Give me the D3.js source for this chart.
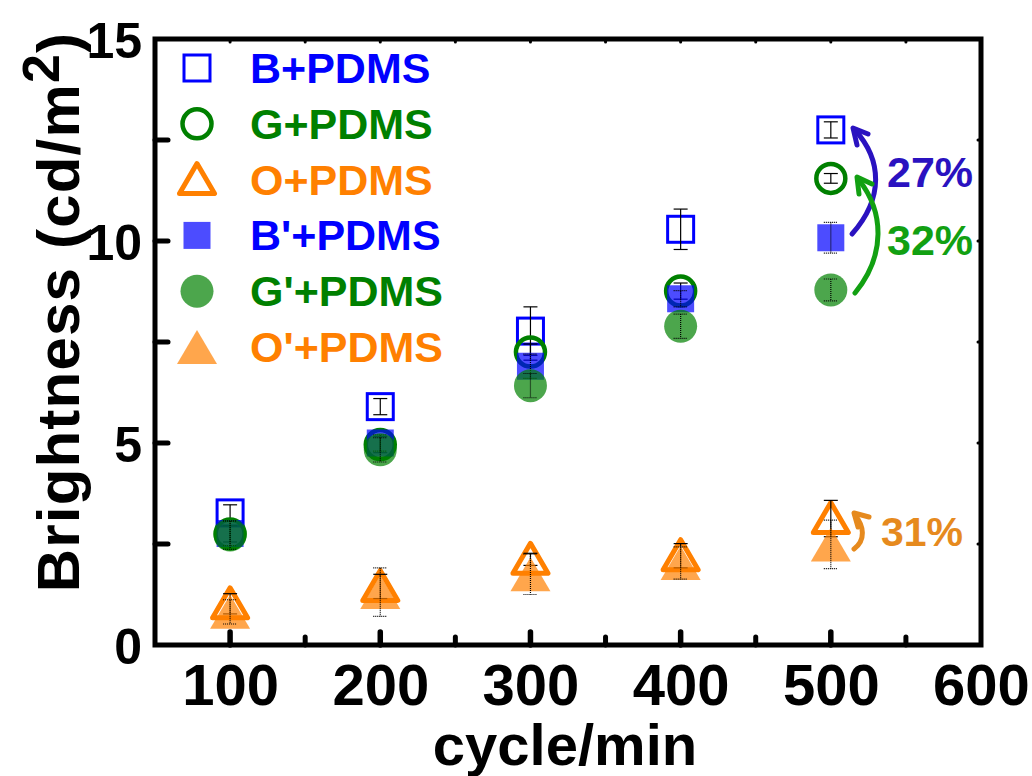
<!DOCTYPE html>
<html><head><meta charset="utf-8">
<script src="https://cdn.jsdelivr.net/npm/d3@7"></script>
<style>body{margin:0;background:#fff}svg{display:block}text{font-family:"Liberation Sans",Arial,sans-serif;font-weight:bold}</style>
</head><body><svg id="c" width="1032" height="776"></svg>
<script>
const cycles = [100, 200, 300, 400, 500];
const B  = [3.27, 5.9, 7.77, 10.29, 12.75];
const G  = [2.75, 4.96, 7.25, 8.76, 11.55];
const O  = [1.02, 1.45, 2.12, 2.21, 3.13];
const Bp = [2.76, 5.0, 6.9, 8.57, 10.08];
const Gp = [2.72, 4.83, 6.42, 7.89, 8.79];
const Op = [0.82, 1.31, 1.75, 2.03, 2.49];
const Berr  = [0.2, 0.2, 0.6, 0.5, 0.2];
const Gerr  = [0.2, 0.2, 0.2, 0.2, 0.12];
const Oerr  = [0.25, 0.3, 0.15, 0.3, 0.45];
const Bperr = [0.3, 0.2, 0.3, 0.2, 0.38];
const Gperr = [0.35, 0.3, 0.3, 0.3, 0.27];
const Operr = [0.3, 0.6, 0.5, 0.4, 0.6];
const seriesNames = ["B+PDMS", "G+PDMS", "O+PDMS", "B'+PDMS", "G'+PDMS", "O'+PDMS"];
const xTicks = [100, 200, 300, 400, 500, 600];
const yTicks = [0, 5, 10, 15];
const annotations = ["27%", "32%", "31%"];

const svg = d3.select("#c");
const x = d3.scaleLinear().domain([50, 600]).range([155, 981]);
const y = d3.scaleLinear().domain([0, 15]).range([645, 39]);

const series = [
  {name: seriesNames[0], v: B,  e: Berr,  shape: "square",   fill: "none", stroke: "#0000ff", sw: 3, text: "#0000ff", dash: null},
  {name: seriesNames[1], v: G,  e: Gerr,  shape: "circle",   fill: "none", stroke: "#008000", sw: 4.5, text: "#008000", dash: null},
  {name: seriesNames[2], v: O,  e: Oerr,  shape: "triangle", fill: "none", stroke: "#ff8000", sw: 5, text: "#ff8000", dash: null},
  {name: seriesNames[3], v: Bp, e: Bperr, shape: "fsquare",  fill: "rgba(0,0,255,0.7)", stroke: "none", sw: 0, text: "#0000ff", dash: "1,1"},
  {name: seriesNames[4], v: Gp, e: Gperr, shape: "fcircle",  fill: "rgba(0,128,0,0.7)", stroke: "none", sw: 0, text: "#008000", dash: "1,1"},
  {name: seriesNames[5], v: Op, e: Operr, shape: "ftriangle",fill: "rgba(255,128,0,0.7)", stroke: "none", sw: 0, text: "#ff8000", dash: "1,1"}
];

function drawSymbol(g, s, cx, cy) {
  let el;
  if (s.shape === "square") el = g.append("rect").attr("x", cx-13).attr("y", cy-13).attr("width", 26).attr("height", 26);
  else if (s.shape === "fsquare") el = g.append("rect").attr("x", cx-13.5).attr("y", cy-13.5).attr("width", 27).attr("height", 27);
  else if (s.shape === "circle") el = g.append("circle").attr("cx", cx).attr("cy", cy).attr("r", 14.5);
  else if (s.shape === "fcircle") el = g.append("circle").attr("cx", cx).attr("cy", cy).attr("r", 16.5);
  else if (s.shape === "triangle") el = g.append("path").attr("d", `M${cx},${cy-16}L${cx+17.5},${cy+14}L${cx-17.5},${cy+14}Z`).attr("stroke-linejoin","round");
  else el = g.append("path").attr("d", `M${cx},${cy-17}L${cx+20},${cy+17}L${cx-20},${cy+17}Z`);
  el.attr("fill", s.fill).attr("stroke", s.stroke).attr("stroke-width", s.sw);
}

// data
const gData = svg.append("g");
series.forEach(s => {
  const g = gData.append("g");
  s.v.forEach((v, i) => {
    const cx = x(cycles[i]), cy = y(v);
    drawSymbol(g, s, cx, cy);
  });
  s.v.forEach((v, i) => {
    const cx = x(cycles[i]);
    const y1 = y(v + s.e[i]), y2 = y(v - s.e[i]);
    const eg = g.append("g").attr("stroke", "#000").attr("stroke-width", 1.2);
    if (s.dash) eg.attr("stroke-dasharray", s.dash);
    eg.append("line").attr("x1", cx).attr("x2", cx).attr("y1", y1).attr("y2", y2);
    eg.append("line").attr("x1", cx-7).attr("x2", cx+7).attr("y1", y1).attr("y2", y1);
    eg.append("line").attr("x1", cx-7).attr("x2", cx+7).attr("y1", y2).attr("y2", y2);
  });
});

// axes
const axG = svg.append("g");
const xb = d3.axisBottom(x).tickValues(xTicks).tickSize(0).tickPadding(0).tickFormat(d3.format("d"));
const xAxis = axG.append("g").attr("transform", "translate(0,645)").call(xb);
xAxis.select(".domain").remove();
xAxis.selectAll("text").attr("y", 60).attr("dy", null).attr("font-size", 58).attr("fill", "#000");
const yl = d3.axisLeft(y).tickValues(yTicks).tickSize(0).tickPadding(0);
const yAxis = axG.append("g").attr("transform", "translate(142,0)").call(yl);
yAxis.select(".domain").remove();
yAxis.selectAll("text").attr("x", 0).attr("dy", "0.36em").attr("font-size", 50).attr("fill", "#000");

// ticks (inward)
const xMajor = xTicks, xMinor = [150, 250, 350, 450, 550];
const tk = svg.append("g").attr("stroke", "#000").attr("stroke-linecap", "round");
xMajor.forEach(v => { if (v < 600) tk.append("line").attr("x1", x(v)).attr("x2", x(v)).attr("y1", 645).attr("y2", 632).attr("stroke-width", 5.5); });
xMinor.forEach(v => tk.append("line").attr("x1", x(v)).attr("x2", x(v)).attr("y1", 645).attr("y2", 637).attr("stroke-width", 5));
[2.5, 5, 7.5, 10, 12.5].forEach(v => tk.append("line").attr("x1", 155).attr("x2", 168).attr("y1", y(v)).attr("y2", y(v)).attr("stroke-width", 5));
xMajor.concat(xMinor).forEach(v => { if (v < 600) tk.append("line").attr("x1", x(v)).attr("x2", x(v)).attr("y1", 39).attr("y2", 42).attr("stroke-width", 3); });
[2.5, 5, 7.5, 10, 12.5].forEach(v => tk.append("line").attr("x1", 981).attr("x2", 978).attr("y1", y(v)).attr("y2", y(v)).attr("stroke-width", 3));
svg.append("rect").attr("x", 155).attr("y", 39).attr("width", 826).attr("height", 606)
  .attr("fill", "none").attr("stroke", "#000").attr("stroke-width", 5);

// axis titles
svg.append("text").attr("x", 565).attr("y", 765).attr("text-anchor", "middle").attr("font-size", 58).text("cycle/min");
const yt = svg.append("text").attr("transform", "translate(79,312) rotate(-90)").attr("text-anchor", "middle").attr("font-size", 60).attr("letter-spacing", 1.2);
yt.append("tspan").text("Brightness (cd/m");
yt.append("tspan").attr("font-size", 52).attr("dy", -20).text("2");
yt.append("tspan").attr("dy", 20).text(")");

// legend
const lg = svg.append("g");
series.forEach((s, i) => {
  const base = 83 + i * 55.8;
  drawSymbol(lg, s, 197, base - 15);
  lg.append("text").attr("x", 250).attr("y", base).attr("font-size", 43).attr("fill", s.text).text(s.name);
});

// annotations
const an = svg.append("g").attr("fill", "none").attr("stroke-width", 5).attr("stroke-linecap", "round").attr("stroke-linejoin", "round");
an.append("path").attr("d", "M852,234 C884,198 882,160 855,130").attr("stroke", "#2a12c0");
an.append("path").attr("d", "M868,134 L853,128 L857,145").attr("stroke", "#2a12c0");
an.append("path").attr("d", "M855,293 C886,255 884,212 859,180").attr("stroke", "#12a012");
an.append("path").attr("d", "M872,184 L857,177 L859,194").attr("stroke", "#12a012");
an.append("path").attr("d", "M854,549 C866,540 864,526 855,515").attr("stroke", "#e68a1e");
an.append("path").attr("d", "M869,517 L854,513 L858,527").attr("stroke", "#e68a1e");
svg.append("text").attr("x", 887).attr("y", 187).attr("font-size", 43).attr("fill", "#2a12c0").text(annotations[0]);
svg.append("text").attr("x", 887).attr("y", 255).attr("font-size", 43).attr("fill", "#12a012").text(annotations[1]);
svg.append("text").attr("x", 881).attr("y", 546).attr("font-size", 41).attr("fill", "#e68a1e").text(annotations[2]);
</script></body></html>
